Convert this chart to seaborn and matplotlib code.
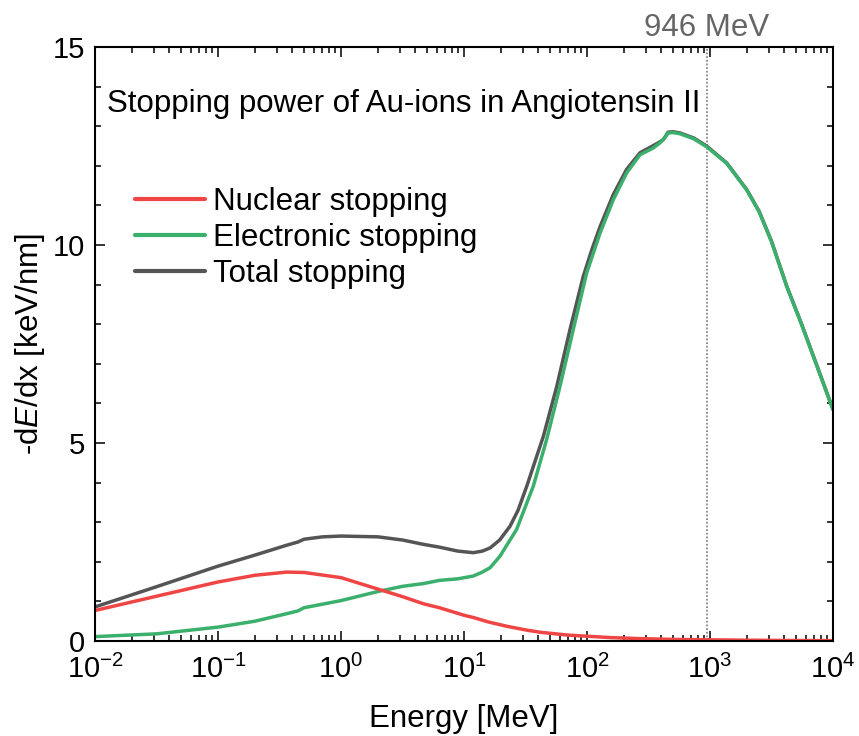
import matplotlib
matplotlib.use("Agg")
import matplotlib.pyplot as plt
from matplotlib.ticker import LogLocator, MultipleLocator, NullFormatter
import seaborn as sns
import pandas as pd

sns.set_style("ticks")
plt.rcParams['font.family'] = ['Liberation Sans', 'DejaVu Sans']
plt.rcParams['mathtext.fontset'] = 'custom'
plt.rcParams['mathtext.rm'] = 'Liberation Sans'
plt.rcParams['mathtext.it'] = 'Liberation Sans:italic'
plt.rcParams['mathtext.default'] = 'regular'
plt.rcParams['text.color'] = 'black'
plt.rcParams['axes.labelcolor'] = 'black'
plt.rcParams['xtick.color'] = 'black'
plt.rcParams['ytick.color'] = 'black'

# energies in MeV and stopping powers in keV/nm
e_nuclear = [0.01, 0.0316, 0.1, 0.2, 0.363, 0.501, 1.0, 2.0, 3.16, 4.68, 6.31, 10.0,
             12.0, 15.8, 22.4, 31.6, 41.7, 69.2, 100, 158, 269, 501, 933, 2000,
             4170, 10000]
nuclear = [0.77, 1.13, 1.49, 1.66, 1.74, 1.73, 1.60, 1.31, 1.12, 0.94, 0.84, 0.65,
           0.59, 0.48, 0.37, 0.28, 0.22, 0.15, 0.12, 0.085, 0.06, 0.04, 0.03, 0.02,
           0.013, 0.008]

e_electronic = [0.01, 0.0316, 0.1, 0.2, 0.363, 0.447, 0.501, 0.708, 1.0, 2.0, 3.16,
                4.68, 6.31, 8.91, 11.9, 14.1, 16.3, 19.6, 26.8, 36.6, 47.0, 60.3,
                77.4, 99.5, 128, 164, 210, 270, 346, 392, 427, 457, 501, 570, 741,
                940, 1370, 1990, 2510, 3160, 4210, 5500, 7410, 10000]
electronic = [0.11, 0.18, 0.35, 0.50, 0.69, 0.76, 0.84, 0.93, 1.02, 1.25, 1.38,
              1.45, 1.53, 1.57, 1.64, 1.74, 1.85, 2.14, 2.82, 3.91, 5.09, 6.43,
              7.87, 9.30, 10.31, 11.15, 11.82, 12.28, 12.45, 12.58, 12.70, 12.83,
              12.84, 12.81, 12.68, 12.48, 12.06, 11.39, 10.84, 10.09, 8.95, 8.03,
              6.94, 5.84]

e_total = [0.01, 0.0316, 0.1, 0.2, 0.363, 0.447, 0.501, 0.708, 1.0, 2.0, 3.16, 4.68,
           6.31, 8.91, 11.9, 14.1, 16.3, 19.5, 23.7, 27.5, 32.4, 44.2, 56.8, 72.8,
           93.3, 110, 128, 164, 210, 270, 346, 389, 417, 457, 501, 570, 741, 940,
           1370, 1990, 2510, 3160, 4210, 5500, 7410, 10000]
total = [0.86, 1.37, 1.89, 2.17, 2.42, 2.50, 2.57, 2.63, 2.65, 2.63, 2.55, 2.44,
         2.37, 2.27, 2.23, 2.27, 2.35, 2.55, 2.90, 3.30, 3.91, 5.17, 6.43, 7.87,
         9.21, 9.90, 10.47, 11.28, 11.91, 12.33, 12.51, 12.60, 12.66, 12.85, 12.86,
         12.83, 12.70, 12.50, 12.07, 11.40, 10.85, 10.10, 8.96, 8.04, 6.95, 5.85]

labels = ["Nuclear stopping", "Electronic stopping", "Total stopping"]
colors = {"Nuclear stopping": "#F04545",
          "Electronic stopping": "#3BAF6C",
          "Total stopping": "#555555"}
marker_energy = 946.0
fs = 22.5

df = pd.concat([
    pd.DataFrame({"energy": e_total, "value": total, "series": labels[2]}),
    pd.DataFrame({"energy": e_electronic, "value": electronic, "series": labels[1]}),
    pd.DataFrame({"energy": e_nuclear, "value": nuclear, "series": labels[0]}),
])

fig = plt.figure(figsize=(8.59, 7.36), dpi=100)
ax = fig.add_axes([0.1106, 0.1291, 0.8591, 0.8070])
ax.set_xscale('log')

sns.lineplot(data=df, x="energy", y="value", hue="series",
             hue_order=[labels[2], labels[1], labels[0]], palette=colors,
             linewidth=2.5, sort=False, estimator=None, ax=ax)

ax.axvline(marker_energy, color="#777777", ls=(0, (1.2, 1.2)), lw=1.1, zorder=0)
ax.annotate("946 MeV", xy=(marker_energy, 1.0), xycoords=('data', 'axes fraction'),
            xytext=(0, 8), textcoords='offset points', ha='center', va='baseline',
            fontsize=fs, color="#666666")

ax.text(0.0163, 0.8906, "Stopping power of Au-ions in Angiotensin II",
        transform=ax.transAxes, fontsize=fs, va='baseline', ha='left')

ax.set_xlim(1e-2, 1e4)
ax.set_ylim(0, 15)
ax.yaxis.set_major_locator(MultipleLocator(5))
ax.yaxis.set_minor_locator(MultipleLocator(1))
ax.xaxis.set_major_locator(LogLocator(base=10, numticks=20))
ax.xaxis.set_minor_locator(LogLocator(base=10, subs=range(2, 10), numticks=20))
ax.xaxis.set_minor_formatter(NullFormatter())

ax.tick_params(which='both', direction='in', top=True, right=True, width=1.1,
               labelsize=21, color='black')
ax.tick_params(which='major', length=7.5, pad=7)
ax.tick_params(axis='x', which='major', pad=10)
ax.tick_params(which='minor', length=4.5)
for s in ax.spines.values():
    s.set_linewidth(1.5)
    s.set_color('black')

ax.set_xlabel("Energy [MeV]", fontsize=fs, labelpad=14)
ax.set_ylabel("-d$\\it{E}$/dx [keV/nm]", fontsize=fs, labelpad=4)

handles, labs = ax.get_legend_handles_labels()
order = [labs.index(l) for l in labels]
leg = ax.legend([handles[i] for i in order], labels, loc='upper left',
                bbox_to_anchor=(0.0542, 0.765), frameon=False, fontsize=fs,
                handlelength=2.25, handletextpad=0.26, labelspacing=0.2,
                borderpad=0, borderaxespad=0)
for line in leg.get_lines():
    line.set_linewidth(3)

fig.savefig("out.png", dpi=100)
